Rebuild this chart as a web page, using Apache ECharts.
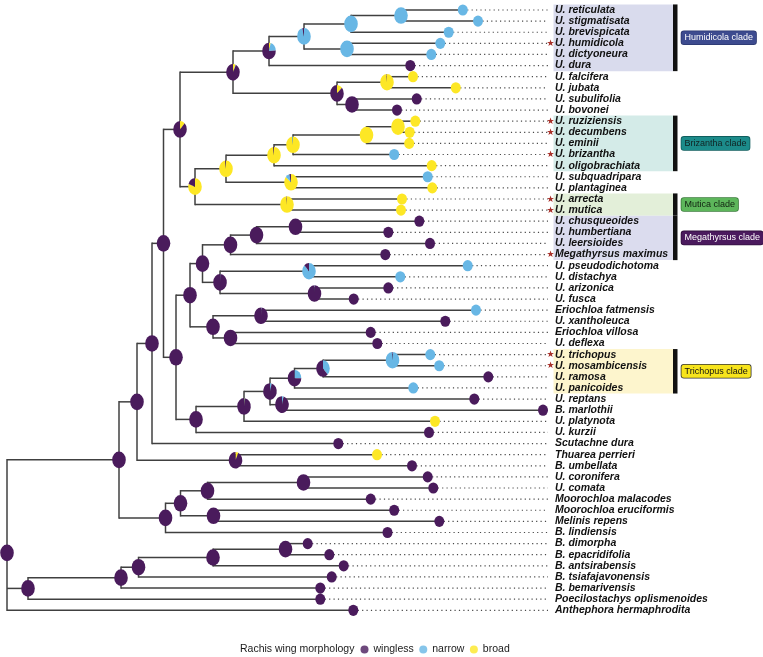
<!DOCTYPE html>
<html><head><meta charset="utf-8">
<script src="https://cdn.jsdelivr.net/npm/echarts@6/dist/echarts.min.js"></script>
<style>html,body{margin:0;padding:0;background:#fff}#c{width:763px;height:657px}</style>
</head><body><div id="c"></div>
<script>
// ---------- DATA ----------
const taxa = ['U. reticulata','U. stigmatisata','U. brevispicata','U. humidicola','U. dictyoneura','U. dura','U. falcifera','U. jubata','U. subulifolia','U. bovonei',
'U. ruziziensis','U. decumbens','U. eminii','U. brizantha','U. oligobrachiata','U. subquadripara','U. plantaginea','U. arrecta','U. mutica',
'U. chusqueoides','U. humbertiana','U. leersioides','Megathyrsus maximus','U. pseudodichotoma','U. distachya','U. arizonica','U. fusca','Eriochloa fatmensis','U. xantholeuca','Eriochloa villosa','U. deflexa',
'U. trichopus','U. mosambicensis','U. ramosa','U. panicoides','U. reptans','B. marlothii','U. platynota','U. kurzii','Scutachne dura','Thuarea perrieri','B. umbellata','U. coronifera','U. comata','Moorochloa malacodes','Moorochloa eruciformis','Melinis repens','B. lindiensis','B. dimorpha','B. epacridifolia','B. antsirabensis','B. tsiafajavonensis','B. bemarivensis','Poecilostachys oplismenoides','Anthephora hermaphrodita'];

const tipDepth = [462.8,478,448.7,440.3,431.3,410.3,413,455.8,416.7,397,
415.3,409.7,409.2,394.2,431.7,427.7,432.3,402,401,
419.3,388.3,430,385.3,467.7,400.3,388.3,353.7,476,445.3,370.7,377.3,
430.3,439.2,488.3,413.3,474.3,543,435,429,338.3,377,412,427.7,433.3,370.7,394.2,439.3,387.5,307.7,329.3,343.7,331.7,320.3,320.3,353.3];

const tipState = ['N','N','N','N','N','W','B','B','W','W',
'B','B','B','N','B','N','B','B','B',
'W','W','W','W','N','N','W','W','N','W','W','W',
'N','N','W','N','W','W','B','W','W','B','W','W','W','W','W','W','W','W','W','W','W','W','W','W'];

const starredTaxa = ['U. humidicola','U. ruziziensis','U. decumbens','U. brizantha','U. arrecta','U. mutica','Megathyrsus maximus','U. trichopus','U. mosambicensis'];

const nodeId = ['root','n119','n137','n152','n163','n180','n233','n268','n304','n352a','n401','n347','n337','n385','n352b',
'n195','n226','n274','n293','n367','n398','n291','n287',
'n176','n190','n202','n230','n256','n296','n220','n309','n314','n213','n261','n230b',
'n196','n244','n270','n295','n323','n392','n282','n235',
'n165','n180b','n207','n303','n213b','n28','n121','n138','n212','n285'];
const nodeKids = [['n119','n28',54],['n137','n165'],['n152','n235'],['n163',39],['n180','n176'],['n233','n195'],['n268','n337'],['n304',5],['n352a','n347'],['n401',2],[0,1],[3,4],['n385','n352b'],[6,7],[8,9],
['n226','n287'],['n274','n291'],['n293',14],['n367',13],['n398',12],[10,11],[15,16],[17,18],
['n190','n196'],['n202','n213'],['n230','n220'],['n256',22],['n296',21],[19,20],['n309','n314'],[23,24],[25,26],['n261','n230b'],[27,28],[29,30],
['n244',38],['n270',37],['n295','n282'],['n323',34],['n392',33],[31,32],[35,36],[40,41],
['n180b',47],['n207','n213b'],['n303',44],[42,43],[45,46],['n121',53],['n138',52],['n212',51],['n285',50],[48,49]];
const nodeDepth = [7,119,137,152,163.5,180,233,269,304,351,401,347,337,387,352,
195,226,274,293,366.5,398,291,287,
176,190,202.5,230.5,256.5,295.5,220,309,314.5,213,261,230.5,
196,244,270,294.5,323,392.5,282,235.5,
165.5,180.5,207.5,303.5,213.5,28,121,138.5,213,285.5];
const nodeWingless = [1,1,1,1,1,0.88,0.93,0.76,0.04,0,0,0,0.87,0.01,1,
0.2,0.02,0.02,0,0,0,0.04,0.01,
1,1,1,1,1,1,0.99,0.12,0.99,1,0.99,1,
1,0.98,0.96,0.75,0.62,0.015,0.96,0.93,
1,1,1,1,1,1,1,1,1,1];
const nodeNarrow = [0,0,0,0,0,0,0.01,0.2,0.96,1,1,1,0,0,0,
0,0,0,0.02,0,0,0.1,0,
0,0,0,0,0,0,0.01,0.88,0.01,0,0.01,0,
0,0.01,0.04,0.25,0.38,0.985,0.04,0,
0,0,0,0,0,0,0,0,0,0];
const nodeBroad = [0,0,0,0,0,0.12,0.06,0.04,0,0,0,0,0.13,0.99,0,
0.8,0.98,0.98,0.98,1,1,0.86,0.99,
0,0,0,0,0,0,0,0,0,0,0,0,
0,0.01,0,0,0,0,0,0.07,
0,0,0,0,0,0,0,0,0,0];

const cladeName = ['Humidicola clade','Brizantha clade','Mutica clade','Megathyrsus clade','Trichopus clade'];
const cladeFirst = [0,10,17,19,31];
const cladeLast = [5,14,18,22,34];

const stateNames = ['wingless','narrow','broad'];
const legendTitle = 'Rachis wing morphology';

// ---------- STYLE ----------
const COL = {W:'#4a1b5c', N:'#68b7e5', B:'#fde725'};
const cladeFill = ['#d9dbed','#d4ebe8','#e3efd9','#dbdcee','#fdf5cd'];
const cladeTagBg = ['#3d4b8f','#1c8b8a','#5db65b','#4b1a5e','#f7e41c'];
const cladeTagBorder = ['#2b376e','#0f5e5e','#3a7c3a','#33103f','#333333'];
const cladeTagText = ['#ffffff','#112222','#112211','#ffffff','#111111'];
const LINE_END = 548, LABEL_X = 555, STAR_X = 550.5, BOX_L = 553.5, BOX_R = 673, BAR_W = 4.5, TAG_X = 681.5;
const FONT = '"Liberation Sans", Arial, Helvetica, sans-serif';

// ---------- TREE GEOMETRY ----------
const yMemo = {};
function nodeIndex(ref){ return nodeId.indexOf(ref); }
function yOf(ref){
  if (typeof ref === 'number') return ref;
  if (yMemo[ref] !== undefined) return yMemo[ref];
  const ys = nodeKids[nodeIndex(ref)].map(yOf);
  const v = ys.reduce((a,b)=>a+b,0)/ys.length;
  yMemo[ref] = v; return v;
}
function depthOf(ref){ return typeof ref === 'number' ? tipDepth[ref] : nodeDepth[nodeIndex(ref)]; }

const vertData = [], horzData = [];
nodeId.forEach((id,k)=>{
  const ys = nodeKids[k].map(yOf);
  vertData.push([nodeDepth[k], Math.min(...ys), Math.max(...ys)]);
  nodeKids[k].forEach(c=>horzData.push([nodeDepth[k], depthOf(c), yOf(c)]));
});
const leaderData = taxa.map((t,i)=>[tipDepth[i], i]);
const pieData = [];
nodeId.forEach((id,k)=>pieData.push([nodeDepth[k], yOf(id), nodeWingless[k], nodeNarrow[k], nodeBroad[k], 0]));
taxa.forEach((t,i)=>pieData.push([tipDepth[i], i, tipState[i]==='W'?1:0, tipState[i]==='N'?1:0, tipState[i]==='B'?1:0, 1]));
const labelData = taxa.map((t,i)=>[LABEL_X, i]);
const cladeData = cladeName.map((n,k)=>[cladeFirst[k], cladeLast[k]]);

const lineStyle = {stroke:'#404040', lineWidth:1.5};

function lineEl(p1,p2,style){ return {type:'line', shape:{x1:p1[0],y1:p1[1],x2:p2[0],y2:p2[1]}, style:style}; }

const option = {
  animation:false,
  backgroundColor:'#ffffff',
  grid:{left:0,right:0,top:4.44,bottom:41.14},
  xAxis:{type:'value',min:0,max:763,show:false},
  yAxis:{type:'value',min:-0.5,max:54.5,inverse:true,show:false},
  title:{text:legendTitle,left:240,top:643.5,padding:0,textStyle:{fontSize:10.5,fontWeight:'normal',color:'#1a1a1a',fontFamily:FONT}},
  legend:{left:360.5,top:644,padding:0,itemWidth:8,itemHeight:10,itemGap:5.5,selectedMode:false,
    icon:'path://M5,0A5,5,0,1,1,5,10A5,5,0,1,1,5,0Z',
    textStyle:{fontSize:10.5,color:'#1a1a1a',fontFamily:FONT},data:stateNames},
  series:[
    {type:'custom',name:'clades',z:1,data:cladeData,renderItem:function(params,api){
      const a=api.value(0), b=api.value(1), k=params.dataIndex;
      const p0=api.coord([BOX_L,a-0.5]), p1=api.coord([BOX_R,b+0.5]), pm=api.coord([TAG_X,(a+b)/2]);
      return {type:'group',children:[
        {type:'rect',shape:{x:p0[0],y:p0[1],width:p1[0]-p0[0],height:p1[1]-p0[1]},style:{fill:cladeFill[k]}},
        {type:'rect',shape:{x:p1[0],y:p0[1],width:BAR_W,height:p1[1]-p0[1]},style:{fill:'#111111'}},
        {type:'text',x:pm[0],y:pm[1],style:{text:cladeName[k],fill:cladeTagText[k],fontSize:9,fontFamily:FONT,
          align:'left',verticalAlign:'middle',backgroundColor:cladeTagBg[k],borderColor:cladeTagBorder[k],borderWidth:0.8,
          borderRadius:2.5,padding:[2,3,1.5,3],lineHeight:9.5}}
      ]};
    }},
    {type:'custom',name:'leaders',z:2,data:leaderData,renderItem:function(params,api){
      const y=api.value(1);
      return lineEl(api.coord([api.value(0),y]),api.coord([LINE_END,y]),{stroke:'#4a4a4a',lineWidth:1.2,lineDash:[1.2,3.2]});
    }},
    {type:'custom',name:'vbranch',z:3,data:vertData,renderItem:function(params,api){
      const x=api.value(0);
      return lineEl(api.coord([x,api.value(1)]),api.coord([x,api.value(2)]),Object.assign({lineCap:'square'},lineStyle));
    }},
    {type:'custom',name:'hbranch',z:3,data:horzData,renderItem:function(params,api){
      const y=api.value(2);
      return lineEl(api.coord([api.value(0),y]),api.coord([api.value(1),y]),Object.assign({lineCap:'butt'},lineStyle));
    }},
    {type:'custom',name:'pies',z:4,data:pieData,renderItem:function(params,api){
      const c=api.coord([api.value(0),api.value(1)]);
      const tip=api.value(5)===1;
      const r=tip?5:6.8, sy=tip?1.12:1.22;
      const fr=[api.value(4),api.value(3),api.value(2)];
      const cols=[COL.B,COL.N,COL.W];
      const tot=fr[0]+fr[1]+fr[2];
      const kids=[]; let a=-Math.PI/2;
      for(let i=0;i<3;i++){
        if(fr[i]<=0) continue;
        if(fr[i]>=tot){ kids.push({type:'circle',shape:{cx:0,cy:0,r:r},style:{fill:cols[i]}}); break; }
        const e=a+fr[i]/tot*Math.PI*2;
        kids.push({type:'sector',shape:{cx:0,cy:0,r:r,r0:0,startAngle:a,endAngle:e,clockwise:true},style:{fill:cols[i]}});
        a=e;
      }
      return {type:'group',x:c[0],y:c[1],scaleY:sy,children:kids};
    }},
    {type:'custom',name:'labels',z:5,data:labelData,renderItem:function(params,api){
      const i=params.dataIndex;
      const p=api.coord([api.value(0),api.value(1)]);
      const kids=[{type:'text',x:p[0],y:p[1],style:{text:taxa[i],fill:'#111111',fontSize:10.5,fontWeight:'bold',fontStyle:'italic',fontFamily:FONT,align:'left',verticalAlign:'middle'}}];
      if(starredTaxa.indexOf(taxa[i])>=0){
        const s=api.coord([STAR_X,api.value(1)]);
        kids.push({type:'text',x:s[0],y:s[1]+0.3,style:{text:'★',fill:'#a8312a',fontSize:9,fontFamily:'"DejaVu Sans", sans-serif',align:'center',verticalAlign:'middle'}});
      }
      return {type:'group',children:kids};
    }},
    {type:'scatter',name:'wingless',data:[],itemStyle:{color:COL.W}},
    {type:'scatter',name:'narrow',data:[],itemStyle:{color:COL.N}},
    {type:'scatter',name:'broad',data:[],itemStyle:{color:COL.B}}
  ]
};
const chart = echarts.init(document.getElementById('c'));
chart.setOption(option);
</script>
</body></html>
